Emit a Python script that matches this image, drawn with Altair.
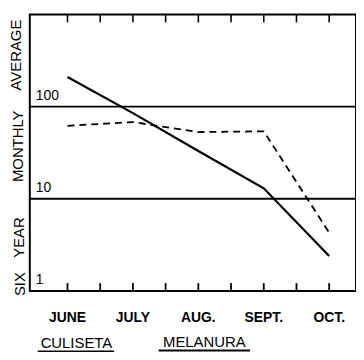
import altair as alt
import pandas as pd

# ---- data ----
months = ["JUNE", "JULY", "AUG.", "SEPT.", "OCT."]
solid_values = [210, 85, 33, 13, 2.4]
dashed_values = [62, 68, 53, 54, 4.3]
tick_positions = [0, 0.5, 1, 1.5, 2, 2.5, 3, 3.5, 4]
ref_levels = [10, 100]
y_label_values = [1, 10, 100]
y_title_words = ["AVERAGE", "MONTHLY", "YEAR", "SIX"]
species_words = ["CULISETA", "MELANURA"]

FONT = "Liberation Sans"
W, H = 329, 279
xs = alt.Scale(domain=[-0.576, 4.41], nice=False, zero=False)
ys = alt.Scale(type="log", domain=[1, 1000], nice=False)

idx = list(range(len(months)))
solid_df = pd.DataFrame({"i": idx, "value": solid_values})
dashed_df = pd.DataFrame({"i": idx, "value": dashed_values})
month_df = pd.DataFrame({"i": idx, "month": months})
ticks_df = pd.DataFrame({"t": tick_positions})
ref_df = pd.DataFrame({"v": ref_levels})
ylab_df = pd.DataFrame({"v": y_label_values, "label": [str(v) for v in y_label_values]})

solid = alt.Chart(solid_df).mark_line(color="black", strokeWidth=2.2).encode(
    x=alt.X("i:Q", scale=xs, axis=None),
    y=alt.Y("value:Q", scale=ys, axis=None),
)
dashed = alt.Chart(dashed_df).mark_line(color="black", strokeWidth=1.8, strokeDash=[7, 5]).encode(
    x=alt.X("i:Q", scale=xs, axis=None),
    y=alt.Y("value:Q", scale=ys, axis=None),
)
refs = alt.Chart(ref_df).mark_rule(color="black", strokeWidth=2).encode(
    y=alt.Y("v:Q", scale=ys, axis=None)
)
bottom_ticks = alt.Chart(ticks_df).mark_rule(color="black", strokeWidth=1.8).encode(
    x=alt.X("t:Q", scale=xs, axis=None), y=alt.value(H), y2=alt.value(H - 8)
)
top_ticks = alt.Chart(ticks_df).mark_rule(color="black", strokeWidth=1.6).encode(
    x=alt.X("t:Q", scale=xs, axis=None), y=alt.value(0), y2=alt.value(8)
)
month_labels = alt.Chart(month_df).mark_text(font=FONT, fontSize=14, fontWeight="bold",
                                             color="black", align="center",
                                             baseline="middle").encode(
    x=alt.X("i:Q", scale=xs, axis=None), y=alt.value(H + 27), text="month:N"
)
ylabels = alt.Chart(ylab_df).mark_text(align="left", baseline="bottom", dy=-4, font=FONT,
                                       fontSize=14, color="black").encode(
    y=alt.Y("v:Q", scale=ys, axis=None), x=alt.value(6), text="label:N"
)

layers = [refs, solid, dashed, bottom_ticks, top_ticks, month_labels, ylabels]

title_pos = [(-14, 41), (-12, 133), (-11, 225), (-10, 272)]
for w, (px, py) in zip(y_title_words, title_pos):
    layers.append(
        alt.Chart(pd.DataFrame({"w": [w]})).mark_text(angle=270, font=FONT, fontSize=15,
                                                      color="black", align="center",
                                                      baseline="middle").encode(
            text="w:N", x=alt.value(px), y=alt.value(py))
    )

species_pos = [(47, 331, 8, 85), (176, 330, 130, 222)]
for w, (cx, cy, ux1, ux2) in zip(species_words, species_pos):
    layers.append(
        alt.Chart(pd.DataFrame({"w": [w]})).mark_text(font=FONT, fontSize=15, color="black",
                                                      align="center", baseline="middle").encode(
            text="w:N", x=alt.value(cx), y=alt.value(cy))
    )
    layers.append(
        alt.Chart(pd.DataFrame({"w": [w]})).mark_rule(color="black", strokeWidth=2).encode(
            x=alt.value(ux1), x2=alt.value(ux2), y=alt.value(cy + 9))
    )

chart = alt.layer(*layers).properties(
    width=W, height=H,
    autosize="none",
    padding={"left": 22, "top": 5, "right": 0, "bottom": 60},
    background="white",
).configure_view(stroke="black", strokeWidth=2)

chart.save("out.html", embed_options={"renderer": "svg", "actions": False})
